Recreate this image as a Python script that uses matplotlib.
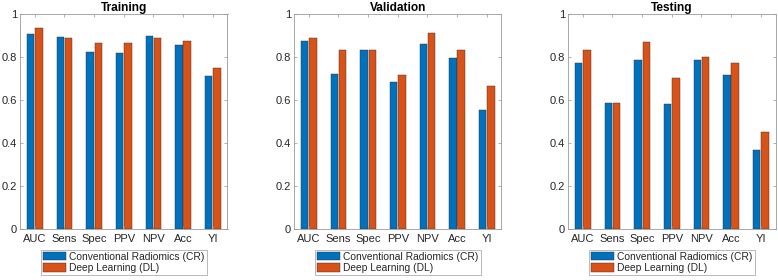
import matplotlib
matplotlib.use("Agg")
import matplotlib.pyplot as plt
import numpy as np

plt.rcParams['font.family'] = ['Liberation Sans', 'DejaVu Sans']

metrics = ["AUC", "Sens", "Spec", "PPV", "NPV", "Acc", "YI"]
panels = ["Training", "Validation", "Testing"]
series_names = ["Conventional Radiomics (CR)", "Deep Learning (DL)"]

train_cr = [0.909, 0.893, 0.822, 0.819, 0.896, 0.858, 0.711]
train_dl = [0.935, 0.890, 0.864, 0.867, 0.887, 0.876, 0.751]
valid_cr = [0.875, 0.723, 0.834, 0.684, 0.861, 0.797, 0.555]
valid_dl = [0.889, 0.834, 0.834, 0.715, 0.910, 0.834, 0.667]
test_cr = [0.771, 0.585, 0.785, 0.583, 0.785, 0.717, 0.367]
test_dl = [0.833, 0.585, 0.871, 0.701, 0.800, 0.774, 0.453]

data = [(train_cr, train_dl), (valid_cr, valid_dl), (test_cr, test_dl)]
colors = ["#0072BD", "#D95319"]
yticks = [0, 0.2, 0.4, 0.6, 0.8, 1]
ytick_labels = ["0", "0.2", "0.4", "0.6", "0.8", "1"]

W, H = 778, 280
fig = plt.figure(figsize=(W / 100, H / 100), dpi=100)

lefts = [20, 294, 568]
axw = 207.5
ax_bottom = 229.3
ax_top = 14
fs = 8.0
txt = "#262626"

x = np.arange(1, len(metrics) + 1)
bw = 0.25
off = 0.14

for i, (title, (cr, dl)) in enumerate(zip(panels, data)):
    ax = fig.add_axes([lefts[i] / W, 1 - ax_bottom / H, axw / W, (ax_bottom - ax_top) / H])
    ax.bar(x - off, cr, bw, color=colors[0], edgecolor="#2a2a2a", linewidth=0.3,
           label=series_names[0])
    ax.bar(x + off, dl, bw, color=colors[1], edgecolor="#2a2a2a", linewidth=0.3,
           label=series_names[1])
    ax.set_xlim(0.5, 7.5)
    ax.set_ylim(0, 1)
    ax.set_xticks(x)
    ax.set_xticklabels(metrics, fontsize=fs, color=txt)
    ax.set_yticks(yticks)
    ax.set_yticklabels(ytick_labels, fontsize=fs, color=txt)
    ax.tick_params(direction="in", top=True, right=True, length=2.5, width=0.5,
                   colors="#909090", labelcolor=txt, pad=2)
    ax.tick_params(axis="x", pad=3.5)
    for s in ax.spines.values():
        s.set_color("#9a9a9a")
        s.set_linewidth(0.6)
    ax.set_title(title, fontsize=8.6, fontweight="bold", color="black", pad=2.5)
    leg = ax.legend(loc="upper center", bbox_to_anchor=(0.5, -0.094), ncol=1,
                    fontsize=7.4, frameon=True, fancybox=False,
                    handlelength=2.3, handleheight=0.9, handletextpad=0.3,
                    labelspacing=0.12, borderpad=0.2, borderaxespad=0)
    leg.get_frame().set_edgecolor("#9a9a9a")
    leg.get_frame().set_linewidth(0.6)
    for t in leg.get_texts():
        t.set_color(txt)

fig.savefig("out.png", dpi=100)
